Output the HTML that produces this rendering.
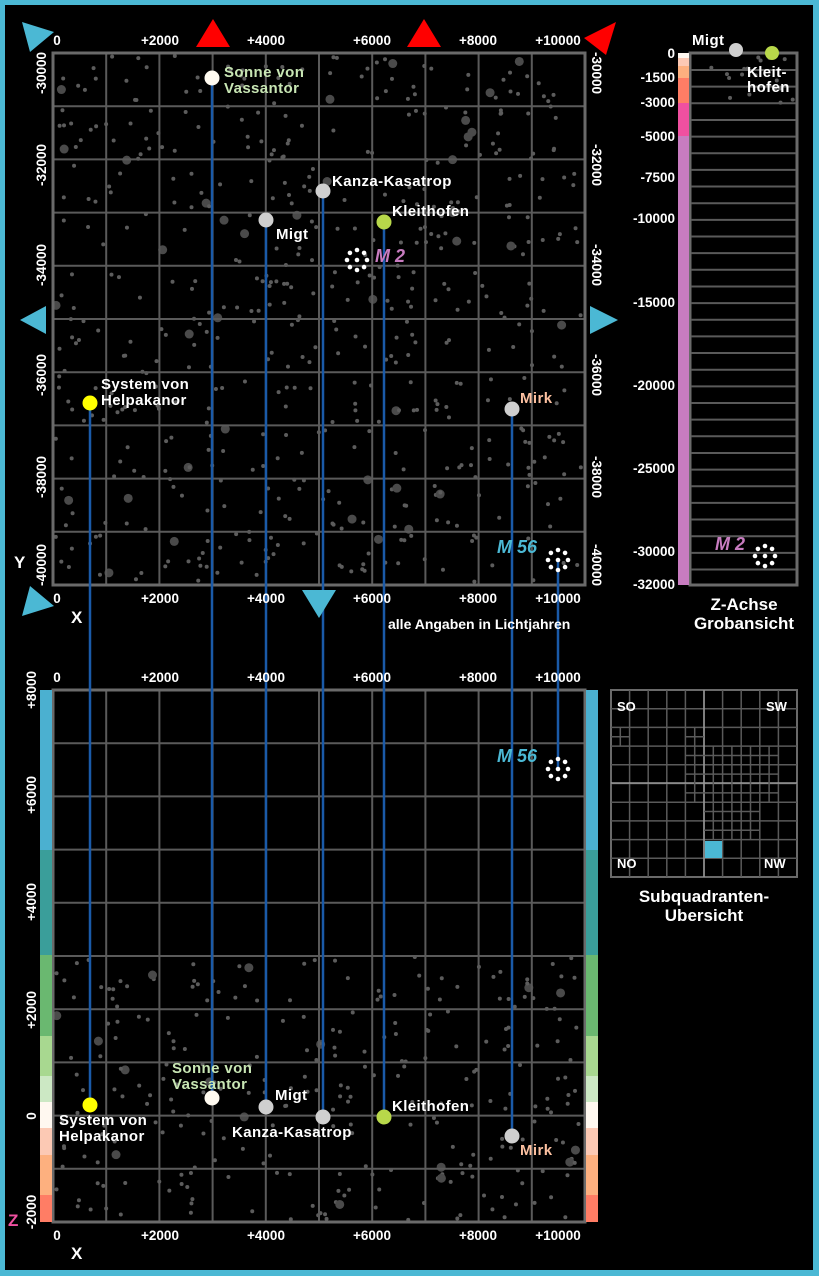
<!DOCTYPE html>
<html><head><meta charset="utf-8"><style>
html,body{margin:0;padding:0;background:#000}
svg{display:block}
text{font-family:"Liberation Sans",sans-serif;font-weight:bold}
</style></head><body>
<svg id="s" width="819" height="1276" viewBox="0 0 819 1276" xmlns="http://www.w3.org/2000/svg">
<rect x="0" y="0" width="819" height="1276" fill="#4bb8d4"/>
<rect x="5" y="5" width="808" height="1265" fill="#000"/>
<g id="stars"></g>
<g id="grid" stroke="#5a5a5a" stroke-width="2" fill="none"></g>
<rect x="53" y="53" width="532" height="532" fill="none" stroke="#6a6a6a" stroke-width="3"/>
<rect x="53" y="690" width="532" height="532" fill="none" stroke="#6a6a6a" stroke-width="3"/>
<rect x="690" y="53" width="107" height="532" fill="none" stroke="#6a6a6a" stroke-width="3"/>
<g id="zl" stroke="#5a5a5a" stroke-width="2"></g>
<rect x="678" y="53" width="11" height="5" fill="#fff8f0"/>
<rect x="678" y="58" width="11" height="8" fill="#fcc9b4"/>
<rect x="678" y="66" width="11" height="12" fill="#fdb07f"/>
<rect x="678" y="78" width="11" height="25" fill="#ff7d65"/>
<rect x="678" y="103" width="11" height="33" fill="#f050a0"/>
<rect x="678" y="136" width="11" height="449" fill="#c87cc0"/>
<g id="zb"></g>
<g stroke="#1a5aa8" stroke-width="2.5">
<line x1="90" y1="403" x2="90" y2="1105"/>
<line x1="212" y1="78" x2="212" y2="1098"/>
<line x1="266" y1="220" x2="266" y2="1107"/>
<line x1="323" y1="191" x2="323" y2="1117"/>
<line x1="384" y1="222" x2="384" y2="1117"/>
<line x1="512" y1="409" x2="512" y2="1136"/>
<line x1="558" y1="560" x2="558" y2="769"/>
</g>
<circle cx="212" cy="78" r="7.5" fill="#fffaf0"/>
<circle cx="266" cy="220" r="7.5" fill="#cfcfcf"/>
<circle cx="323" cy="191" r="7.5" fill="#cfcfcf"/>
<circle cx="384" cy="222" r="7.5" fill="#b8d84a"/>
<circle cx="90" cy="403" r="7.5" fill="#ffff00"/>
<circle cx="512" cy="409" r="7.5" fill="#cfcfcf"/>
<circle cx="90" cy="1105" r="7.5" fill="#ffff00"/>
<circle cx="212" cy="1098" r="7.5" fill="#fffaf0"/>
<circle cx="266" cy="1107" r="7.5" fill="#cfcfcf"/>
<circle cx="323" cy="1117" r="7.5" fill="#cfcfcf"/>
<circle cx="384" cy="1117" r="7.5" fill="#b8d84a"/>
<circle cx="512" cy="1136" r="7.5" fill="#cfcfcf"/>
<circle cx="736" cy="50" r="7" fill="#cfcfcf"/>
<circle cx="772" cy="53" r="7" fill="#b8d84a"/>
<g id="cl" fill="#fff"></g>
<g font-size="15" fill="#fff" letter-spacing="0.4">
<text x="224" y="77" fill="#c8e6b4">Sonne von</text>
<text x="224" y="93" fill="#c8e6b4">Vassantor</text>
<text x="332" y="186">Kanza-Kasatrop</text>
<text x="392" y="216">Kleithofen</text>
<text x="276" y="239">Migt</text>
<text x="101" y="389">System von</text>
<text x="101" y="405">Helpakanor</text>
<text x="520" y="403" fill="#fcc0a0">Mirk</text>
<text x="692" y="45">Migt</text>
<text x="747" y="77">Kleit-</text>
<text x="747" y="92">hofen</text>
<text x="172" y="1073" fill="#c8e6b4">Sonne von</text>
<text x="172" y="1089" fill="#c8e6b4">Vassantor</text>
<text x="275" y="1100">Migt</text>
<text x="232" y="1137">Kanza-Kasatrop</text>
<text x="392" y="1111">Kleithofen</text>
<text x="59" y="1125">System von</text>
<text x="59" y="1141">Helpakanor</text>
<text x="520" y="1155" fill="#fcc0a0">Mirk</text>
</g>
<g font-size="18" font-style="italic">
<text x="375" y="262" fill="#c87cc0">M 2</text>
<text x="715" y="550" fill="#c87cc0">M 2</text>
<text x="497" y="553" fill="#4bb8d4">M 56</text>
<text x="497" y="762" fill="#4bb8d4">M 56</text>
</g>
<g font-size="13.5" fill="#fff" text-anchor="middle" id="ax"></g>
<g font-size="13" fill="#fff">
<text x="388" y="629" font-weight="normal" font-size="14">alle Angaben in Lichtjahren</text>
<text x="14" y="568" font-size="17">Y</text>
<text x="71" y="623" font-size="17">X</text>
<text x="71" y="1259" font-size="17">X</text>
<text x="8" y="1226" font-size="17" fill="#f050a0">Z</text>
</g>
<g font-size="17" fill="#fff" text-anchor="middle">
<text x="744" y="610" font-weight="normal">Z-Achse</text>
<text x="744" y="629" font-weight="normal">Grobansicht</text>
<text x="704" y="902" font-weight="normal">Subquadranten-</text>
<text x="704" y="921" font-weight="normal">Ubersicht</text>
</g>
<g font-size="13.5" fill="#fff" text-anchor="end">
<text x="675" y="58">0</text>
<text x="675" y="82">-1500</text>
<text x="675" y="107">-3000</text>
<text x="675" y="141">-5000</text>
<text x="675" y="182">-7500</text>
<text x="675" y="223">-10000</text>
<text x="675" y="307">-15000</text>
<text x="675" y="390">-20000</text>
<text x="675" y="473">-25000</text>
<text x="675" y="556">-30000</text>
<text x="675" y="589">-32000</text>
</g>
<rect x="611" y="690" width="186" height="187" fill="#000" stroke="#6a6a6a" stroke-width="2"/>
<g id="sq" stroke="#5a5a5a" stroke-width="1.5"></g>
<rect x="705" y="841" width="17" height="17" fill="#4bb8d4"/>
<g font-size="13" fill="#fff">
<text x="617" y="711">SO</text><text x="766" y="711">SW</text>
<text x="617" y="868">NO</text><text x="764" y="868">NW</text>
</g>
<g fill="#4bb8d4">
<polygon points="22,22 54,32 30,52"/>
<polygon points="20,320 46,306 46,334"/>
<polygon points="618,320 590,306 590,334"/>
<polygon points="22,616 54,606 30,586"/>
<polygon points="302,590 336,590 319,618"/>
</g>
<g fill="#f00">
<polygon points="196,47 230,47 213,19"/>
<polygon points="407,47 441,47 424,19"/>
<polygon points="584,38 616,22 606,55"/>
</g>
</svg>
<script>
(function(){
var NS="http://www.w3.org/2000/svg";
function el(p,t,a){var e=document.createElementNS(NS,t);for(var k in a)e.setAttribute(k,a[k]);p.appendChild(e);return e;}
var seed=12345;function r(){seed=(seed*1103515245+12345)%2147483648;return seed/2147483648;}
var st=document.getElementById('stars');
function stars(x0,y0,w,h,n){for(var i=0;i<n;i++){var big=r()<0.07;el(st,'circle',{cx:x0+r()*w,cy:y0+r()*h,r:big?4.5:2,fill:big?'#4a4a4a':'#5c5c5c'});}}
stars(55,55,528,528,560);
stars(55,957,528,263,280);
stars(692,56,103,50,18);
var g=document.getElementById('grid');
for(var i=1;i<10;i++){var p=53+i*53.2;
el(g,'line',{x1:p,y1:53,x2:p,y2:585});el(g,'line',{x1:53,y1:p,x2:585,y2:p});
el(g,'line',{x1:p,y1:690,x2:p,y2:1222});el(g,'line',{x1:53,y1:690+i*53.2,x2:585,y2:690+i*53.2});}
var zl=document.getElementById('zl');
for(var y=70;y<585;y+=16.65)el(zl,'line',{x1:691,y1:y,x2:796,y2:y});
var zb=document.getElementById('zb');
var cols=[[690,850,'#4bb0d0'],[850,955,'#3a9e9a'],[955,1036,'#6ab870'],[1036,1076,'#a8d890'],[1076,1102,'#cce8c4'],[1102,1128,'#fff8f0'],[1128,1155,'#fcc9b4'],[1155,1195,'#fdb07f'],[1195,1222,'#ff7d65']];
cols.forEach(function(c){el(zb,'rect',{x:40,y:c[0],width:12,height:c[1]-c[0],fill:c[2]});el(zb,'rect',{x:586,y:c[0],width:12,height:c[1]-c[0],fill:c[2]});});
var cl=document.getElementById('cl');
[[357,260],[558,560],[558,769],[765,556]].forEach(function(c){el(cl,'circle',{cx:c[0],cy:c[1],r:2.3});for(var k=0;k<8;k++){var a=k*Math.PI/4;el(cl,'circle',{cx:c[0]+10*Math.cos(a),cy:c[1]+10*Math.sin(a),r:2.3});}});
var ax=document.getElementById('ax');
var xl=[[57,'0'],[160,'+2000'],[266,'+4000'],[372,'+6000'],[478,'+8000'],[558,'+10000']];
[45,603,682,1240].forEach(function(y){xl.forEach(function(l){var t=el(ax,'text',{x:l[0],y:y});t.textContent=l[1];});});
var yl=[[73,'-30000'],[165,'-32000'],[265,'-34000'],[375,'-36000'],[477,'-38000'],[565,'-40000']];
yl.forEach(function(l){var t=el(ax,'text',{transform:'translate(46,'+l[0]+') rotate(-90)'});t.textContent=l[1];
var t2=el(ax,'text',{transform:'translate(592,'+l[0]+') rotate(90)'});t2.textContent=l[1];});
var zz=[[690,'+8000'],[795,'+6000'],[902,'+4000'],[1010,'+2000'],[1116,'0'],[1212,'-2000']];
zz.forEach(function(l){var t=el(ax,'text',{transform:'translate(36,'+l[0]+') rotate(-90)'});t.textContent=l[1];});
var sq=document.getElementById('sq');
for(var i=1;i<10;i++){var p=611+i*18.6,q=690+i*18.7;el(sq,'line',{x1:p,y1:690,x2:p,y2:877});el(sq,'line',{x1:611,y1:q,x2:797,y2:q});}
el(sq,'line',{x1:704,y1:690,x2:704,y2:877,stroke:'#999'});el(sq,'line',{x1:611,y1:783,x2:797,y2:783,stroke:'#999'});
for(var cx=0;cx<10;cx++)for(var cy=0;cy<10;cy++){
 var inside=(cy>=3&&cy<=5&&cx>=4&&cx<=8)||(cy>=6&&cy<=7&&cx>=5&&cx<=7)||(cy==2&&cx==4)||(cx==0&&cy==2);
 if(!inside)continue;var x=611+cx*18.6,y=690+cy*18.7;
 el(sq,'line',{x1:x+9.3,y1:y,x2:x+9.3,y2:y+18.7});el(sq,'line',{x1:x,y1:y+9.35,x2:x+18.6,y2:y+9.35});}
})();
</script>
</body></html>
